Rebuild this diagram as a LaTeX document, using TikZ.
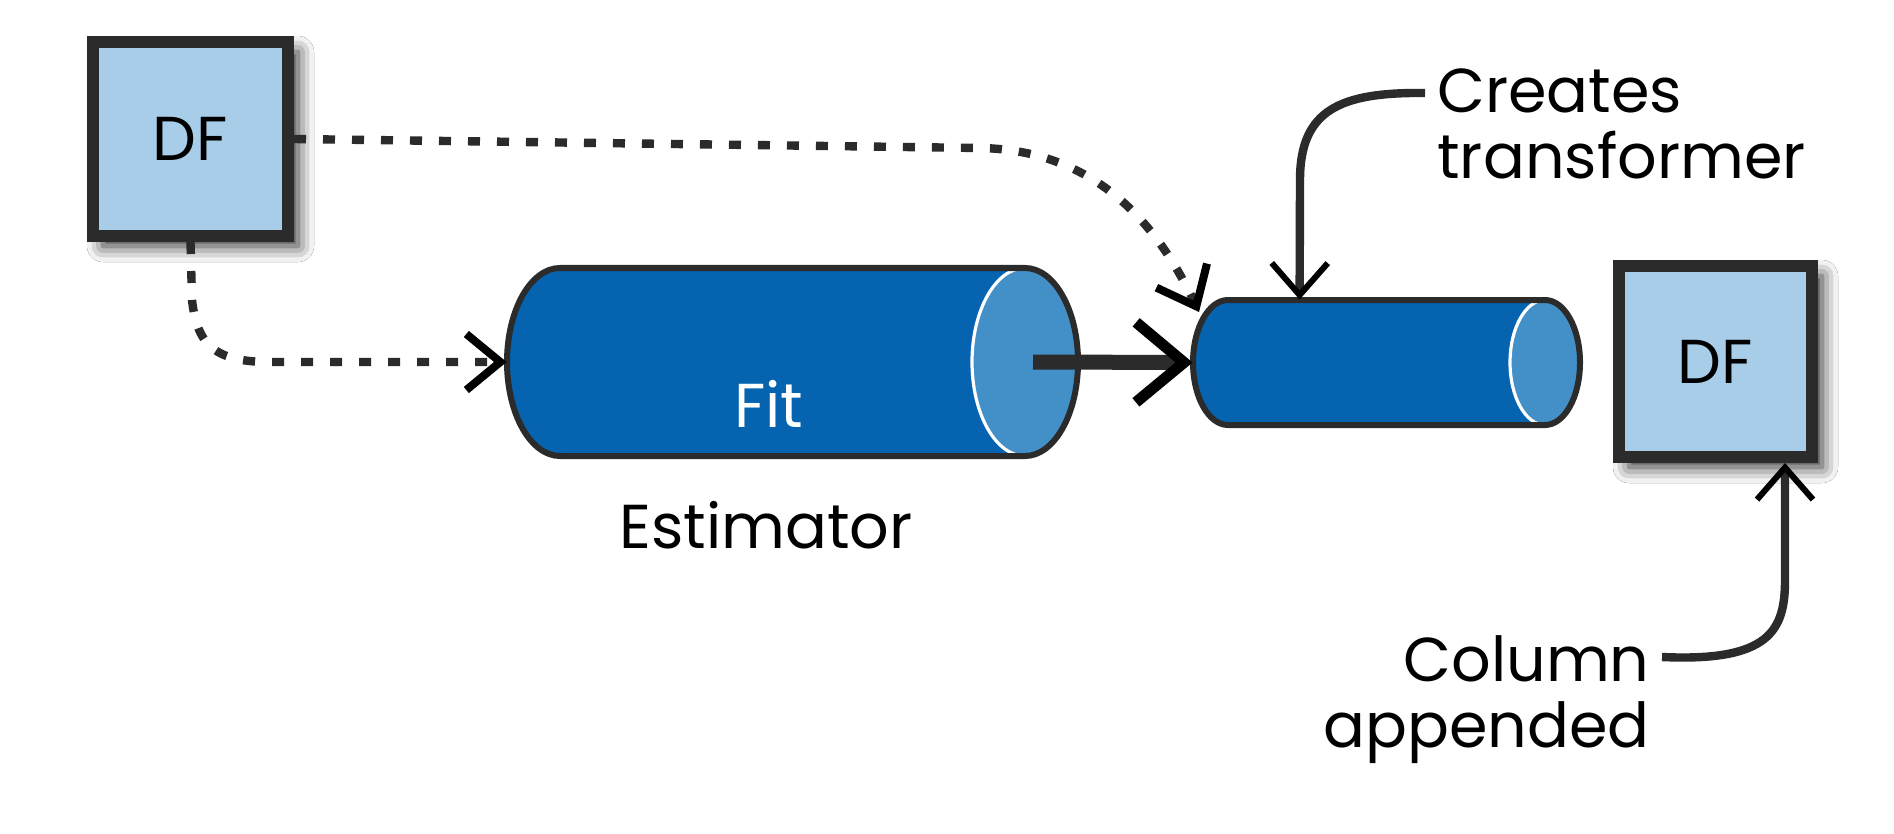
\documentclass[tikz,border=0pt]{standalone}
\usepackage{fontspec}
\setmainfont{Poppins}
\usetikzlibrary{arrows.meta,calc,shadows.blur}
\definecolor{ink}{HTML}{2B2B2B}
\definecolor{dfblue}{HTML}{A8CDE8}
\definecolor{cylblue}{HTML}{0563B0}
\definecolor{capblue}{HTML}{4390C8}
\tikzset{
  lbl/.style={font=\fontsize{31}{33}\selectfont, inner sep=0pt, text=black},
  dfbox/.style={draw=ink, fill=dfblue, line width=6pt, rectangle, inner sep=0pt, lbl,
    blur shadow={shadow xshift=5pt, shadow yshift=-5pt, shadow blur radius=8pt, shadow opacity=85}},
  cylfill/.style={fill=cylblue},
  capfill/.style={fill=capblue},
  capedge/.style={draw=white, line width=1.6pt},
  cyledge/.style={draw=ink, line width=3pt, line join=round},
  holder/.style={rectangle, inner sep=0pt, draw=none},
  darrow/.style={draw=ink, line width=4.2pt, dash pattern=on 6pt off 8.5pt,
    -{Straight Barb[length=17pt,width=28pt,line width=4pt,color=black]}},
  tarrow/.style={draw=ink, line width=7.5pt,
    -{Straight Barb[length=24pt,width=40pt,line width=5.5pt,color=black]}},
  narrow/.style={draw=ink, line width=4.2pt,
    -{Straight Barb[length=16pt,width=28pt,line width=3pt,color=black]}},
}
\begin{document}
\begin{tikzpicture}[x=0.5pt,y=0.5pt]
\useasboundingbox (0,0) rectangle (1894,-834);
\fill[white] (0,0) rectangle (1894,-834);

% DF boxes
\node[dfbox, minimum width=97.5pt, minimum height=97pt] (df1) at (190.5,-139) {DF};
\node[dfbox, minimum width=96.5pt, minimum height=95.5pt] (df2) at (1715.5,-361.5) {DF};

% cylinder 1 (estimator)
\path[cylfill] (560,-268) -- (1025,-268) arc[start angle=90,end angle=-90,x radius=26.5pt,y radius=47pt]
  -- (560,-456) arc[start angle=270,end angle=90,x radius=26.5pt,y radius=47pt] -- cycle;
\path[capfill] (1025,-362) ellipse[x radius=26.5pt,y radius=47pt];
\draw[capedge] (1025,-268) arc[start angle=90,end angle=270,x radius=26.5pt,y radius=47pt];
\draw[cyledge] (560,-268) -- (1025,-268) arc[start angle=90,end angle=-90,x radius=26.5pt,y radius=47pt]
  -- (560,-456) arc[start angle=270,end angle=90,x radius=26.5pt,y radius=47pt] -- cycle;
\node[holder, minimum width=286pt, minimum height=94.5pt] (cyl1) at (793,-362) {};
\coordinate (cap1) at (1033,-362);

% cylinder 2 (transformer)
\path[cylfill] (1228,-300) -- (1545,-300) arc[start angle=90,end angle=-90,x radius=17.5pt,y radius=31.25pt]
  -- (1228,-425) arc[start angle=270,end angle=90,x radius=17.5pt,y radius=31.25pt] -- cycle;
\path[capfill] (1545,-362.5) ellipse[x radius=17.5pt,y radius=31.25pt];
\draw[capedge] (1545,-300) arc[start angle=90,end angle=270,x radius=17.5pt,y radius=31.25pt];
\draw[cyledge] (1228,-300) -- (1545,-300) arc[start angle=90,end angle=-90,x radius=17.5pt,y radius=31.25pt]
  -- (1228,-425) arc[start angle=270,end angle=90,x radius=17.5pt,y radius=31.25pt] -- cycle;
\node[holder, minimum width=193.5pt, minimum height=62.5pt] (cyl2) at (1386.5,-362.5) {};
\coordinate (c2in) at (1199,-312);

% labels
\node[lbl, text=white, anchor=base] (fit) at (769,-427) {Fit};
\node[lbl, anchor=base] (est) at (766,-548) {Estimator};
\node[lbl, anchor=north west, align=left] (crt) at (1437,-68) {Creates\\transformer};
\node[lbl, anchor=north east, align=right] (col) at (1650,-635) {Column\\appended};

% connectors
\draw[darrow] (df1.east) -- (980,-148) .. controls (1100,-150) and (1160,-230) .. (c2in);
\draw[darrow] (df1.south) -- (192,-300) .. controls (197,-345) and (215,-362) .. (270,-362) -- (cyl1.west);
\draw[tarrow] (cap1) -- (cyl2.west);
\draw[narrow] ($(crt.north west)+(-12,-25)$) .. controls (1340,-92) and (1300,-110) .. (1300,-180)
  -- ($(cyl2.north west)+(107,0)$);
\draw[narrow] ($(col.north east)+(12,-22)$) .. controls (1770,-662) and (1785,-630) .. (1785,-580)
  -- ($(df2.south west)+(172,0)$);
\end{tikzpicture}
\end{document}
